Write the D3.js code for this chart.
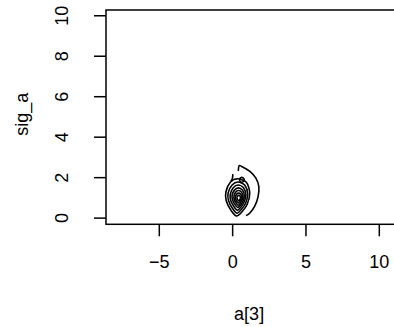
<!DOCTYPE html>
<html><head><meta charset="utf-8">
<script src="https://cdn.jsdelivr.net/npm/d3@7"></script>
<style>body{margin:0;background:#fff}svg{display:block}text{font-family:"Liberation Sans",Arial,sans-serif;fill:#000}</style>
</head><body>
<script>
// Tick labels
const xTicks = [-5, 0, 5, 10];
const yTicks = [0, 2, 4, 6, 8, 10];
const xLabel = "a[3]";
const yLabel = "sig_a";

// Contour lines (data units: a[3], sig_a)
const outerArc = [[0.42,2.31],[0.48,2.57],[0.71,2.50],[1.21,2.28],[1.62,1.95],[1.82,1.53],[1.77,1.04],[1.55,0.58],[1.21,0.23],[0.95,0.10]];
const ascender = [[0.05,2.15],[0.02,1.95],[-0.08,1.80]];
const smallLoop = [[0.66,1.99],[0.80,1.92],[0.80,1.82],[0.66,1.75],[0.52,1.82],[0.52,1.92]];
const ring1 = [[0.39,1.92],[0.98,1.74],[1.20,1.22],[1.03,0.66],[0.66,0.28],[0.30,0.08],[-0.06,0.34],[-0.40,0.82],[-0.42,1.29],[-0.11,1.76]];
const ring2 = [[0.40,1.76],[0.87,1.60],[1.06,1.17],[0.92,0.71],[0.62,0.40],[0.33,0.22],[0.03,0.45],[-0.25,0.85],[-0.27,1.23],[0.00,1.61]];
const ring3 = [[0.41,1.61],[0.78,1.48],[0.93,1.13],[0.82,0.77],[0.59,0.51],[0.36,0.36],[0.12,0.55],[-0.11,0.87],[-0.12,1.17],[0.08,1.48]];
const ring4 = [[0.42,1.47],[0.70,1.36],[0.83,1.09],[0.74,0.81],[0.56,0.61],[0.38,0.50],[0.20,0.64],[0.02,0.89],[0.00,1.12],[0.16,1.36]];
const ring5 = [[0.43,1.34],[0.64,1.26],[0.73,1.06],[0.67,0.84],[0.54,0.70],[0.40,0.61],[0.27,0.72],[0.14,0.90],[0.13,1.08],[0.24,1.26]];
const ring6 = [[0.44,1.21],[0.59,1.16],[0.65,1.02],[0.60,0.88],[0.51,0.78],[0.42,0.73],[0.33,0.79],[0.24,0.92],[0.23,1.04],[0.31,1.16]];
const ring7 = [[0.45,1.10],[0.53,1.07],[0.57,0.99],[0.54,0.91],[0.49,0.86],[0.44,0.83],[0.39,0.87],[0.34,0.93],[0.33,1.00],[0.38,1.07]];
const openLines = [outerArc, ascender];
const closedLines = [smallLoop, ring1, ring2, ring3, ring4, ring5, ring6, ring7];

const W = 394, H = 327;
const L = 106, T = 10, B = 224.3, R = 430;
const x = d3.scaleLinear().domain([-8.6, 13.49]).range([L, R]);
const y = d3.scaleLinear().domain([-0.33, 10.26]).range([B, T]);
const FS = 18;
const FF = '"Liberation Sans",Arial,sans-serif';

const svg = d3.select("body").append("svg").attr("width", W).attr("height", H);

// contours
const lineOpen = d3.line().x(d => x(d[0])).y(d => y(d[1])).curve(d3.curveCardinal.tension(0.2));
const lineClosed = d3.line().x(d => x(d[0])).y(d => y(d[1])).curve(d3.curveCardinalClosed.tension(0.2));
const cg = svg.append("g").attr("fill", "none").attr("stroke", "#000").attr("stroke-width", 1.6);
cg.selectAll("path.o").data(openLines).join("path").attr("class", "o").attr("d", lineOpen);
cg.selectAll("path.c").data(closedLines).join("path").attr("class", "c").attr("d", lineClosed);

// box
svg.append("rect").attr("x", L).attr("y", T).attr("width", R - L).attr("height", B - T)
  .attr("fill", "none").attr("stroke", "#000").attr("stroke-width", 1.5);

// x axis
const xa = svg.append("g").attr("transform", `translate(0,${B})`)
  .call(d3.axisBottom(x).tickValues(xTicks).tickSize(12).tickPadding(19)
    .tickFormat(d => d < 0 ? "\u2212" + Math.abs(d) : d));
xa.select(".domain").remove();
xa.selectAll("line").attr("stroke-width", 1.5);
xa.selectAll("text").attr("font-size", FS).attr("font-family", FF);

// y axis
const ya = svg.append("g").attr("transform", `translate(${L},0)`)
  .call(d3.axisLeft(y).tickValues(yTicks).tickSize(12).tickFormat(d => d));
ya.select(".domain").remove();
ya.selectAll("line").attr("stroke-width", 1.5);
ya.selectAll("text").attr("font-size", FS).attr("font-family", FF)
  .attr("text-anchor", "middle").attr("dy", null)
  .attr("x", null)
  .attr("transform", "translate(-44,0) rotate(-90)").attr("dominant-baseline", "central");

// axis titles
svg.append("text").attr("x", x(0) + 17).attr("y", 320).attr("text-anchor", "middle")
  .attr("font-size", FS).text(xLabel);
svg.append("text").attr("transform", `translate(28,${(T + B) / 2 - 3}) rotate(-90)`)
  .attr("text-anchor", "middle").attr("font-size", FS).text(yLabel);
</script>
</body></html>
